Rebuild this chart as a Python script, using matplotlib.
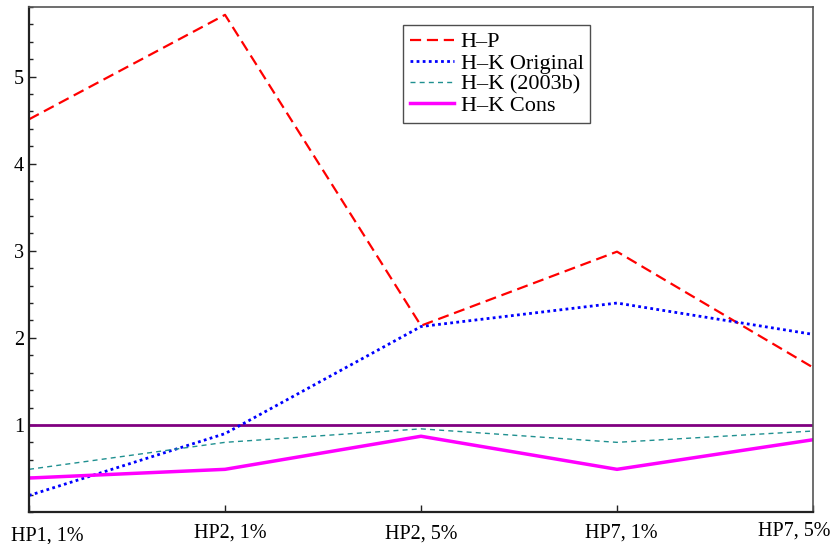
import matplotlib
matplotlib.use("Agg")
import matplotlib.pyplot as plt
from matplotlib.ticker import MultipleLocator
from matplotlib.transforms import ScaledTranslation

categories = ["HP1, 1%", "HP2, 1%", "HP2, 5%", "HP7, 1%", "HP7, 5%"]
hp = [4.51, 5.71, 2.14, 2.99, 1.66]
hk_original = [0.19, 0.90, 2.13, 2.40, 2.04]
hk_2003b = [0.49, 0.80, 0.955, 0.80, 0.93]
hk_cons = [0.39, 0.49, 0.87, 0.49, 0.83]
reference = [1, 1, 1, 1, 1]
y_ticks = [1, 2, 3, 4, 5]

plt.rcParams["font.family"] = ["Liberation Serif", "DejaVu Serif"]

fig = plt.figure(figsize=(8.32, 5.44), dpi=100)
ax = fig.add_axes([29/832, 1-512/544, (813-29)/832, (512-7)/544])

x = list(range(len(categories)))
ax.plot(x, reference, color="#800080", lw=2.0, solid_capstyle="butt")
ax.plot(x, hp, color="#ff0000", lw=1.6, linestyle=(0, (5, 2.6)), label="H\u2013P")
ax.plot(x, hk_original, color="#0000ff", lw=2.0, linestyle=(0, (1, 1.2)), label="H\u2013K Original")
ax.plot(x, hk_2003b, color="#1f9090", lw=1.0, linestyle=(0, (3.6, 3.0)), label="H\u2013K (2003b)")
ax.plot(x, hk_cons, color="#ff00ff", lw=2.5, label="H\u2013K Cons")

ax.set_xlim(0, len(categories) - 1)
ax.set_ylim(0, 5.8)
ax.set_xticks(x)
ax.set_xticklabels(categories, fontsize=14.5)
ax.set_yticks(y_ticks)
ax.set_yticklabels([str(v) for v in y_ticks], fontsize=14.5)
ax.yaxis.set_minor_locator(MultipleLocator(0.2))
ax.tick_params(axis="both", which="major", direction="in", length=5, width=1, color="#222222")
ax.tick_params(axis="y", which="minor", direction="in", length=3, width=1, color="#222222")
ax.tick_params(axis="y", which="major", pad=3.5)
ax.tick_params(axis="x", which="major", pad=8)

for s in ["left", "bottom"]:
    ax.spines[s].set_linewidth(1.6)
    ax.spines[s].set_color("#222222")
for s in ["top", "right"]:
    ax.spines[s].set_linewidth(1.2)
    ax.spines[s].set_color("#555555")

# category labels nudged as in the reference (kept inside the figure, slight stagger)
dx_px = [18.5, 5.5, 0, 4.5, -18.5]
dy_px = [-3, 0, -1, 0, 2]
for lbl, dx, dy in zip(ax.get_xticklabels(), dx_px, dy_px):
    lbl.set_transform(lbl.get_transform() + ScaledTranslation(dx/100, dy/100, fig.dpi_scale_trans))

leg = ax.legend(loc="upper left", bbox_to_anchor=(0.477, 0.964), borderaxespad=0,
                fontsize=16, frameon=True, fancybox=False, handlelength=2.0,
                handletextpad=0.3, labelspacing=0.03, borderpad=0.3)
leg.get_frame().set_edgecolor("#222222")
leg.get_frame().set_linewidth(1.0)

fig.savefig("out.png", dpi=100)
